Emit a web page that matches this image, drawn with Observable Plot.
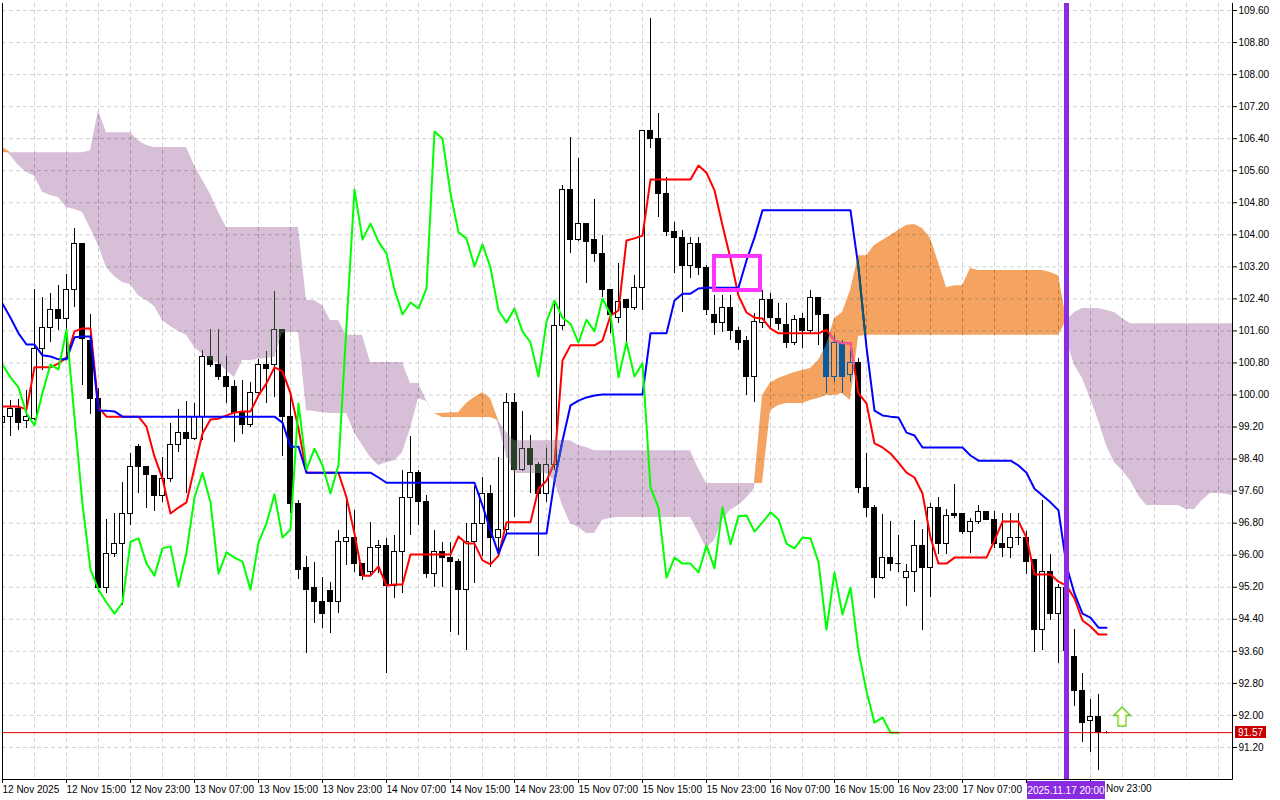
<!DOCTYPE html>
<html><head><meta charset="utf-8">
<script src="https://cdn.jsdelivr.net/npm/d3@7"></script>
<script src="https://cdn.jsdelivr.net/npm/@observablehq/plot@0.6"></script>
<style>
html,body{margin:0;padding:0;background:#fff;}
#chart{width:1280px;height:800px;overflow:hidden;background:#fff;}
</style></head><body><div id="chart"></div>
<script>
// ---- data (hourly bars, index 0 = 12 Nov 07:00) ----
const opens = [99.31,99.44,99.64,99.34,99.41,101.16,101.68,102.11,101.91,102.61,
103.76,101.36,99.89,95.17,96.02,96.29,97.04,98.69,98.19,97.99,
97.49,97.91,98.76,99.06,98.89,99.44,100.96,100.76,100.46,100.21,
99.54,99.24,100.06,100.76,100.76,101.63,99.44,97.27,95.67,95.19,
94.84,95.10,94.82,96.34,96.42,95.79,95.57,96.17,96.22,95.24,
96.07,97.44,98.06,97.32,95.54,96.07,95.94,95.84,95.14,96.32,
96.79,97.52,96.44,96.64,99.79,98.14,98.66,98.24,97.54,98.26,
101.73,105.13,103.88,104.28,103.86,103.53,102.63,101.93,102.38,102.16,
102.66,106.58,106.40,105.03,104.06,103.91,103.21,103.76,103.18,102.01,
101.81,102.16,101.61,101.34,100.46,101.81,102.36,101.91,101.76,101.31,
101.91,101.59,102.41,102.01,100.44,101.31,100.49,100.79,97.69,97.19,
95.44,95.94,95.79,95.44,95.57,96.24,95.67,97.19,96.27,97.04,
97.04,96.59,96.82,97.07,96.89,96.29,96.17,96.44,96.42,95.87,
94.14,95.57,94.52,95.19,93.47,92.60,91.85,91.95,91.57];
const highs = [99.61,99.86,99.89,100.11,102.63,102.43,102.53,102.73,103.01,104.16,
103.78,102.01,100.16,96.89,97.04,97.81,98.54,98.76,98.19,97.99,
98.44,99.29,99.64,99.84,99.79,101.11,101.63,101.63,100.96,100.36,
100.36,100.31,100.89,101.09,102.58,101.63,99.99,97.37,95.97,95.82,
95.44,95.32,96.62,97.44,97.12,95.79,96.82,96.37,96.42,96.49,
98.11,98.96,98.11,97.49,96.62,96.32,96.32,95.89,96.79,97.71,
97.94,97.74,98.44,100.04,100.04,99.59,98.99,98.31,98.66,102.36,
105.23,106.43,105.90,104.28,104.88,103.98,102.63,103.28,102.38,102.98,
106.58,109.40,107.03,105.43,104.31,104.11,103.93,103.93,103.23,102.48,
102.48,102.48,101.68,101.46,102.03,102.61,102.53,102.28,102.28,101.98,
102.03,102.61,102.43,102.01,101.49,101.36,101.11,100.91,98.54,97.24,
97.02,96.84,96.49,95.77,96.87,96.64,97.29,97.44,97.14,97.76,
97.04,96.92,97.24,97.09,97.09,97.04,97.04,97.04,96.59,95.87,
97.37,96.02,95.27,95.27,94.14,93.05,92.40,92.52,91.60];
const lows = [99.16,98.96,99.11,99.16,99.36,100.61,101.31,101.61,100.94,102.18,
100.24,99.51,95.07,95.04,95.94,94.74,96.74,97.54,97.17,97.09,
97.32,97.81,98.56,97.54,98.86,98.86,100.69,100.36,99.79,98.81,
99.01,99.19,100.01,99.79,99.94,98.46,97.04,95.39,93.54,94.29,
94.17,94.04,94.54,95.74,95.57,95.37,95.49,95.54,93.05,94.92,
95.04,96.49,96.74,95.42,95.19,95.19,94.07,93.99,93.62,95.29,
95.97,95.69,96.04,96.49,96.94,98.09,97.54,95.97,97.32,98.11,
101.61,103.53,103.83,102.78,103.31,102.43,101.54,101.78,101.24,102.11,
102.11,106.15,104.43,103.96,103.03,102.06,102.91,102.98,101.98,101.49,
101.56,101.36,101.11,99.99,99.81,101.66,101.66,101.61,101.16,101.24,
101.16,101.54,101.24,100.04,100.31,100.04,100.31,97.54,96.94,94.92,
95.39,95.59,95.57,94.72,95.07,94.12,94.94,96.02,96.02,96.92,
96.52,96.04,96.77,96.87,96.17,95.94,95.92,96.24,95.52,93.57,
93.62,94.37,93.30,93.50,92.22,91.32,91.07,90.62,91.54];
const closes = [99.44,99.64,99.31,99.46,101.16,101.68,102.11,101.91,102.61,103.76,
101.39,99.89,95.19,96.02,96.29,97.04,98.19,98.19,98.01,97.49,
97.91,98.76,99.06,98.89,99.44,100.96,100.76,100.44,100.19,99.54,
99.24,100.06,100.76,100.64,101.63,99.44,97.27,95.64,95.14,94.82,
94.54,94.82,96.34,96.42,95.79,95.49,96.17,96.22,95.22,96.07,
97.44,98.06,97.32,95.54,96.07,95.94,95.84,95.14,96.32,96.79,
97.52,96.44,96.64,99.79,98.14,98.66,98.24,97.54,98.26,101.73,
105.13,103.88,104.28,103.83,103.53,102.63,102.01,102.31,102.16,102.66,
106.58,106.40,105.03,104.06,103.91,103.21,103.76,103.18,102.11,101.81,
102.16,101.59,101.31,100.46,101.83,102.36,101.93,101.78,101.31,101.88,
101.59,102.41,102.01,100.44,101.31,100.46,100.79,97.69,97.19,95.44,
95.94,95.79,95.79,95.57,96.24,95.67,97.19,96.27,96.97,96.99,
96.59,96.82,97.07,96.89,96.29,96.17,96.44,96.42,95.82,94.14,
95.57,94.52,95.19,93.60,92.60,91.82,91.95,91.57,91.57];
const tenkan = [99.71,99.71,99.71,99.64,100.69,100.69,100.69,100.79,100.94,101.59,
101.66,101.66,99.69,99.46,99.46,99.46,99.46,99.46,99.21,98.46,
97.91,97.04,97.19,97.32,98.19,99.04,99.39,99.41,99.49,99.56,
99.59,99.59,99.99,100.29,100.69,100.59,100.04,99.16,98.06,98.06,
98.06,98.06,98.06,97.44,96.54,95.49,95.49,95.72,95.24,95.27,
95.27,96.02,96.02,96.02,96.02,96.02,96.02,96.47,96.29,96.29,
95.87,95.77,95.99,96.82,96.82,96.82,96.82,97.66,97.86,98.31,
100.86,101.24,101.24,101.24,101.24,101.36,101.98,102.11,103.86,103.91,
103.98,105.38,105.38,105.38,105.38,105.38,105.38,105.73,105.55,105.11,
104.23,103.41,102.48,102.06,101.93,101.91,101.66,101.54,101.54,101.54,
101.54,101.54,101.54,101.63,101.36,101.29,101.29,100.04,99.79,98.79,
98.69,98.54,98.31,98.06,97.94,97.54,96.44,95.79,95.79,95.94,
95.94,95.94,95.94,95.94,96.37,96.84,96.84,96.84,96.44,95.52,
95.52,95.52,95.34,95.24,94.92,94.37,94.22,94.02,94.02];
const kijun = [102.28,101.93,101.54,101.26,101.26,100.99,100.96,100.89,100.89,101.44,
101.46,101.46,99.61,99.61,99.59,99.46,99.46,99.46,99.46,99.46,
99.46,99.46,99.46,99.46,99.46,99.46,99.46,99.46,99.46,99.46,
99.46,99.46,99.46,99.46,99.46,99.31,98.71,98.71,98.06,98.06,
98.06,98.06,98.06,98.06,98.06,98.06,98.06,97.94,97.81,97.81,
97.81,97.81,97.81,97.81,97.81,97.81,97.81,97.81,97.81,97.81,
97.24,96.62,96.04,96.54,96.54,96.54,96.54,96.54,96.54,97.86,
98.86,99.74,99.86,99.94,99.99,100.01,100.01,100.01,100.01,100.01,
100.01,101.54,101.54,101.54,102.36,102.53,102.53,102.66,102.68,102.68,
102.68,102.68,102.68,103.36,103.93,104.61,104.61,104.61,104.61,104.61,
104.61,104.61,104.61,104.61,104.61,104.61,104.61,103.18,101.19,99.61,
99.49,99.46,99.44,99.06,98.99,98.69,98.69,98.69,98.69,98.69,
98.69,98.49,98.36,98.36,98.36,98.36,98.36,98.24,98.06,97.66,
97.49,97.32,97.12,95.74,95.04,94.54,94.44,94.19,94.19];
// Senkou spans as displayed (already shifted 26 bars ahead)
const spanA = [106.18,105.98,105.73,105.56,105.46,105.06,104.98,104.93,104.68,104.63,
104.56,104.16,103.73,103.18,102.96,102.81,102.76,102.48,102.36,102.21,
101.86,101.71,101.59,101.49,101.19,101.01,100.86,100.79,100.61,100.44,
100.86,100.86,100.89,100.91,100.94,101.54,101.56,101.56,99.61,99.59,
99.56,99.54,99.54,99.54,99.06,98.74,98.44,98.24,98.31,98.36,
98.56,99.16,99.91,99.84,99.54,99.54,99.56,99.56,99.79,99.94,
100.06,99.91,99.24,98.49,98.04,98.04,98.04,98.04,98.04,97.86,
97.24,96.79,96.69,96.54,96.54,96.87,96.92,96.94,96.94,96.94,
96.94,96.94,96.94,96.94,96.94,96.94,96.94,96.57,96.17,96.37,
96.87,97.12,97.24,97.42,97.66,99.99,100.30,100.41,100.49,100.56,
100.61,100.66,100.86,101.24,101.91,102.06,102.61,103.48,103.48,103.73,
103.86,103.98,104.11,104.23,104.26,104.16,103.91,103.31,102.68,102.73,
102.73,103.16,103.11,103.11,103.11,103.11,103.11,103.11,103.11,103.11,
103.11,103.06,102.98,101.36,100.74,100.41,99.91,99.36,98.74,98.31,
98.11,97.86,97.49,97.24,97.24,97.24,97.24,97.24,97.14,97.14,
97.37,97.54,97.54,97.52,97.47];
const spanB = [106.05,106.05,106.05,106.05,106.05,106.05,106.05,106.05,106.05,106.05,
106.05,106.10,107.10,106.55,106.55,106.55,106.55,106.35,106.23,106.18,
106.18,106.18,106.18,106.18,105.73,105.36,105.01,104.56,104.18,104.18,
104.18,104.18,104.18,104.18,104.18,104.18,104.18,104.18,102.36,102.36,
102.23,101.86,101.86,101.49,101.49,101.49,100.81,100.81,100.81,100.81,
100.81,100.29,100.29,99.86,99.54,99.44,99.44,99.44,99.44,99.44,
99.44,99.44,99.36,99.06,98.86,98.86,98.86,98.86,98.86,98.86,
98.86,98.86,98.74,98.69,98.61,98.61,98.61,98.61,98.61,98.61,
98.61,98.61,98.61,98.61,98.61,98.61,98.61,98.16,97.79,97.79,
97.79,97.79,97.79,97.79,97.79,97.79,99.61,99.74,99.79,99.79,
99.79,99.86,99.91,99.99,99.99,100.04,99.86,101.46,101.49,101.49,
101.49,101.49,101.49,101.49,101.49,101.49,101.49,101.49,101.49,101.49,
101.49,101.49,101.49,101.49,101.49,101.49,101.49,101.49,101.49,101.49,
101.49,101.49,101.49,101.86,102.06,102.16,102.16,102.16,102.11,102.06,
101.91,101.78,101.78,101.78,101.78,101.78,101.78,101.78,101.78,101.78,
101.78,101.78,101.78,101.78,101.78];
const chikouShift = 26;
const priceTicks = [91.2,92.0,92.8,93.6,94.4,95.2,96.0,96.8,97.6,98.4,99.2,100.0,100.8,101.6,102.4,103.2,104.0,104.8,105.6,106.4,107.2,108.0,108.8,109.6];
const timeTickIdx = [0,8,16,24,32,40,48,56,64,72,80,88,96,104,112,120,128,136];
const timeLabels = ["12 Nov 2025","12 Nov 15:00","12 Nov 23:00","13 Nov 07:00","13 Nov 15:00","13 Nov 23:00","14 Nov 07:00","14 Nov 15:00","14 Nov 23:00","15 Nov 07:00","15 Nov 15:00","15 Nov 23:00","16 Nov 07:00","16 Nov 15:00","16 Nov 23:00","17 Nov 07:00","17 Nov 15:00","17 Nov 23:00"];
const lastPrice = 91.57;
const signalBar = 133;
const signalLabel = "2025.11.17 20:00";
const boxZone = [{x1: 89, x2: 94.75, y1: 102.61, y2: 103.46}];
const arrowBar = 140, arrowPrice = 91.96;

// ---- derived tables ----
const bars = opens.map((o, i) => ({i, o, h: highs[i], l: lows[i], c: closes[i]}));
const cloud = spanA.map((a, i) => ({i, a, b: spanB[i]}));
const gridIdx = d3.range(0, 156, 4);
const FONT = "'Liberation Sans', Arial, sans-serif";
const THISTLE = "#d8bfd8", SANDY = "#f4a460";
const tagHalf = 39;
// tick labels that the signal time tag hides are drawn by the overlay
const axisTicks = timeTickIdx.filter(d => d < signalBar - 9);
const afterTag = timeTickIdx.filter(d => d > signalBar);

function overlay(index, scales, values, dims) {
  const {width, height, marginLeft: ml, marginRight: mr, marginTop: mt, marginBottom: mb} = dims;
  const xR = width - mr, yB = height - mb;
  const g = d3.create("svg:g").attr("font-family", FONT).attr("text-anchor", "start");
  g.append("path").attr("d", `M${ml + 0.5},${mt}V${yB + 0.5}H${xR + 0.5}V${mt}`)
    .attr("fill", "none").attr("stroke", "#000");
  // arrow
  const ax = scales.x(arrowBar), ay = scales.y(arrowPrice);
  const pts = [[0,-9.5],[8.5,-1],[4,-1],[4,9.5],[-4,9.5],[-4,-1],[-8.5,-1]];
  const inner = [[0,-7.5],[6,-2],[3,-2],[3,8.5],[-3,8.5],[-3,-2],[-6,-2]];
  const toD = p => "M" + p.map(([dx, dy]) => `${ax + dx},${ay + dy}`).join("L") + "Z";
  g.append("path").attr("d", toD(pts)).attr("fill", "#fff").attr("stroke", "#5cc836").attr("stroke-width", 1.3);
  g.append("path").attr("d", toD(inner)).attr("fill", "none").attr("stroke", "#e8f27a").attr("stroke-width", 1);
  // price tag
  const py = Math.round(scales.y(lastPrice));
  g.append("rect").attr("x", xR + 3).attr("y", py - 6).attr("width", 31).attr("height", 12).attr("fill", "#c80000");
  g.append("text").attr("x", xR + 18.5).attr("y", py).attr("dy", "0.36em").attr("text-anchor", "middle")
    .attr("fill", "#fff").attr("font-size", 10).text(lastPrice.toFixed(2));
  // ticks hidden by the tag, and the visible remainder of the label after it
  const tx = scales.x(signalBar);
  timeTickIdx.filter(d => !axisTicks.includes(d)).forEach(d => {
    const x = Math.round(scales.x(d)) + 0.5;
    g.append("line").attr("x1", x).attr("x2", x).attr("y1", yB).attr("y2", yB + 4).attr("stroke", "#000");
  });
  afterTag.forEach(d => {
    const full = timeLabels[timeTickIdx.indexOf(d)];
    g.append("text").attr("x", tx + tagHalf + 1).attr("y", yB + 6).attr("dy", "0.71em")
      .attr("font-size", 10).attr("fill", "#000").attr("text-anchor", "start").text(full.replace(/^\d+\s/, ""));
  });
  // time tag
  g.append("rect").attr("x", tx - tagHalf).attr("y", yB + 2).attr("width", tagHalf * 2).attr("height", 18).attr("fill", "#8a2be2");
  g.append("text").attr("x", tx).attr("y", yB + 11).attr("dy", "0.36em").attr("text-anchor", "middle")
    .attr("fill", "#fff").attr("font-size", 10).text(signalLabel);
  return g.node();
}

const chart = Plot.plot({
  width: 1280, height: 800,
  marginLeft: 2, marginRight: 48, marginTop: 3, marginBottom: 21,
  style: {fontFamily: FONT, fontSize: "10px", background: "#fff", color: "#000"},
  x: {type: "linear", domain: [0, 153.75], axis: null},
  y: {type: "linear", domain: [90.40, 109.775], axis: null},
  marks: [
    Plot.frame({fill: "#fff", stroke: null}),
    // kumo
    Plot.areaY(cloud, {x: "i", y1: "a", y2: d => Math.max(d.a, d.b), fill: THISTLE, clip: true, ariaDescription: "kumo-bear"}),
    Plot.areaY(cloud, {x: "i", y1: "b", y2: d => Math.max(d.a, d.b), fill: SANDY, clip: true, ariaDescription: "kumo-bull"}),
    Plot.gridY(priceTicks, {stroke: "#d2d2d2", strokeOpacity: 1, strokeDasharray: "4,3", ariaDescription: "inv-gy"}),
    Plot.gridX(gridIdx, {stroke: "#d2d2d2", strokeOpacity: 1, strokeDasharray: "4,3", ariaDescription: "inv-gx"}),
    // candles
    Plot.ruleX(bars, {x: "i", y1: "l", y2: "h", stroke: "#000", clip: true, shapeRendering: "crispEdges", ariaDescription: "inv-wick"}),
    Plot.rect(bars.filter(d => d.c > d.o), {x1: d => d.i - 0.31, x2: d => d.i + 0.31, y1: "o", y2: "c", fill: "#fff", stroke: "#000", clip: true, shapeRendering: "crispEdges", ariaDescription: "inv-bull"}),
    Plot.rect(bars.filter(d => d.c < d.o), {x1: d => d.i - 0.31, x2: d => d.i + 0.31, y1: "o", y2: "c", fill: "#000", stroke: "#000", clip: true, shapeRendering: "crispEdges", ariaDescription: "inv-bear"}),
    Plot.ruleY(bars.filter(d => d.c === d.o), {y: "c", x1: d => d.i - 0.35, x2: d => d.i + 0.35, stroke: "#000", clip: true, ariaDescription: "inv-doji"}),
    // tenkan / kijun
    Plot.line(tenkan, {x: (d, i) => i, y: d => d, stroke: "#ff0000", strokeWidth: 2, clip: true, ariaDescription: "inv-tenkan"}),
    Plot.line(kijun, {x: (d, i) => i, y: d => d, stroke: "#0000ff", strokeWidth: 2, clip: true, ariaDescription: "inv-kijun"}),
    // chikou
    Plot.line(bars, {x: d => d.i - chikouShift, y: "c", stroke: "#00ff00", strokeWidth: 2, clip: true}),
    // annotations
    Plot.ruleY([lastPrice], {stroke: "#e00000", strokeWidth: 1}),
    Plot.ruleX([signalBar], {stroke: "#8a2be2", strokeWidth: 5}),
    Plot.rect(boxZone, {x1: "x1", x2: "x2", y1: "y1", y2: "y2", fill: "none", stroke: "#ff33ff", strokeWidth: 4}),
    // axes
    Plot.axisY(priceTicks, {anchor: "right", tickFormat: d => d.toFixed(2), tickSize: 4, tickPadding: 2, label: null}),
    Plot.axisX(axisTicks, {anchor: "bottom", tickFormat: d => timeLabels[timeTickIdx.indexOf(d)], textAnchor: "start", tickSize: 4, tickPadding: 2, label: null}),
    overlay
  ]
});

// Terminal-style inverted drawing of everything lying under the cloud:
// copies of the grid/candle/line groups recoloured as |colour - complement(cloud)|,
// clipped to the cloud shapes.
(function invertUnderCloud(svg) {
  const ns = "http://www.w3.org/2000/svg";
  const layers = [...svg.querySelectorAll("[aria-description^='inv-']")];
  if (!layers.length) return;
  const defs = document.createElementNS(ns, "defs");
  svg.insertBefore(defs, svg.firstChild);
  let after = layers[layers.length - 1];
  [["kumo-bear", THISTLE], ["kumo-bull", SANDY]].forEach(([label, col], k) => {
    const src = svg.querySelector(`[aria-description='${label}']`);
    if (!src) return;
    const cp = document.createElementNS(ns, "clipPath");
    cp.setAttribute("id", "kumo-clip-" + k);
    const paths = src.tagName.toLowerCase() === "path" ? [src] : [...src.querySelectorAll("path")];
    paths.forEach(p => {
      const q = p.cloneNode(false);
      const t = src.getAttribute("transform");
      if (t) q.setAttribute("transform", t);
      q.removeAttribute("clip-path");
      cp.appendChild(q);
    });
    defs.appendChild(cp);
    const m = d3.rgb(col);
    const mask = {r: 255 - m.r, g: 255 - m.g, b: 255 - m.b};
    const inv = v => {
      if (!v || v === "none" || v.startsWith("url") || v === "currentColor") return v;
      const c = d3.rgb(v);
      if (!c || isNaN(c.r)) return v;
      return d3.rgb(Math.abs(c.r - mask.r), Math.abs(c.g - mask.g), Math.abs(c.b - mask.b)).formatHex();
    };
    const wrap = document.createElementNS(ns, "g");
    wrap.setAttribute("clip-path", `url(#kumo-clip-${k})`);
    layers.forEach(layer => {
      const copy = layer.cloneNode(true);
      [copy, ...copy.querySelectorAll("*")].forEach(el => {
        ["fill", "stroke"].forEach(a => { if (el.hasAttribute(a)) el.setAttribute(a, inv(el.getAttribute(a))); });
      });
      copy.removeAttribute("aria-description");
      wrap.appendChild(copy);
    });
    after.parentNode.insertBefore(wrap, after.nextSibling);
    after = wrap;
  });
})(chart);
document.getElementById("chart").appendChild(chart);
</script>
</body></html>
